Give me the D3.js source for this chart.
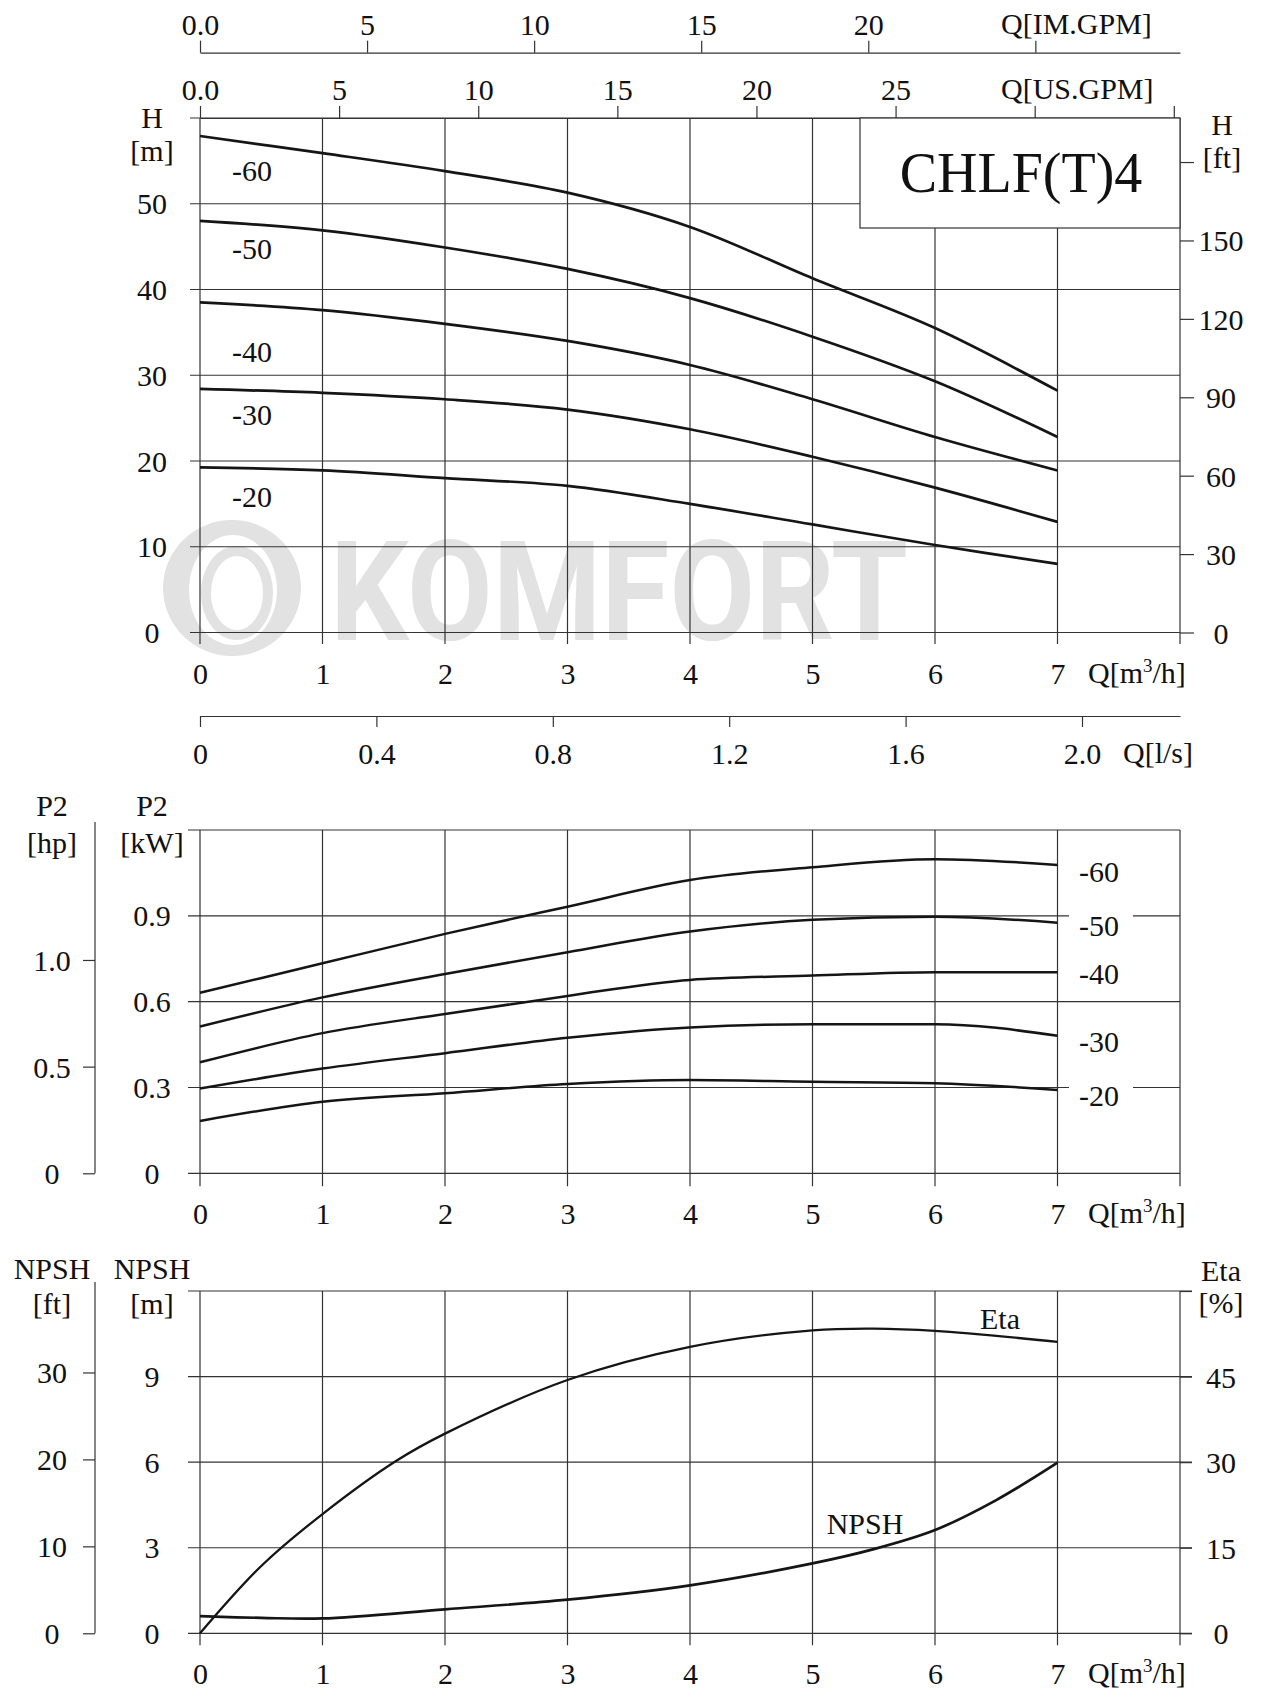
<!DOCTYPE html>
<html><head><meta charset="utf-8">
<script src="https://cdn.jsdelivr.net/npm/d3@7"></script>
<style>
body{margin:0;background:#fff;}
svg{display:block;font-family:"Liberation Serif","Times New Roman",serif;}
</style></head><body>
<svg id="c" width="1263" height="1688"></svg>
<script>
// ---------- DATA ----------
const qPts = [0, 1, 2, 3, 4, 5, 6, 7];                 // Q [m3/h]
const speedLabels = ["-60", "-50", "-40", "-30", "-20"];
// Head H [m]
const head60 = [57.9, 55.9, 53.8, 51.3, 47.3, 41.3, 35.5, 28.2];
const head50 = [48.0, 46.9, 44.9, 42.4, 39.0, 34.5, 29.3, 22.8];
const head40 = [38.5, 37.6, 36.0, 34.0, 31.2, 27.2, 22.8, 18.9];
const head30 = [28.4, 27.95, 27.2, 26.0, 23.7, 20.5, 16.9, 12.9];
const head20 = [19.25, 18.9, 18.0, 17.1, 15.0, 12.6, 10.2, 8.0];
// Power P2 [kW]
const pow60 = [0.631, 0.734, 0.837, 0.932, 1.025, 1.070, 1.098, 1.078];
const pow50 = [0.513, 0.615, 0.697, 0.773, 0.845, 0.886, 0.897, 0.876];
const pow40 = [0.388, 0.490, 0.557, 0.620, 0.676, 0.691, 0.703, 0.703];
const pow30 = [0.296, 0.366, 0.420, 0.474, 0.510, 0.521, 0.521, 0.481];
const pow20 = [0.183, 0.250, 0.280, 0.312, 0.326, 0.320, 0.315, 0.291];
// Efficiency Eta [%]
const qEta = [0, 0.5, 1, 1.6, 2, 3, 4, 5, 5.5, 6, 7];
const eta  = [0, 11.8, 20.9, 30.2, 35.0, 44.4, 50.2, 53.1, 53.4, 53.0, 51.1];
// NPSH [m]
const qNpsh = [0, 0.5, 1, 2, 3, 4, 5, 5.5, 6, 6.5, 7];
const npsh  = [0.60, 0.54, 0.52, 0.84, 1.18, 1.68, 2.45, 2.95, 3.62, 4.67, 5.98];
// Tick values
const qTicks = [0, 1, 2, 3, 4, 5, 6, 7, 8];
const imGpmTicks = [0, 5, 10, 15, 20, 25];
const usGpmTicks = [0, 5, 10, 15, 20, 25, 30, 35];
const lsTicks = [0, 0.4, 0.8, 1.2, 1.6, 2.0];
const hTicks = [0, 10, 20, 30, 40, 50, 60];
const ftTicks = [0, 30, 60, 90, 120, 150, 180];
const kwTicks = [0, 0.3, 0.6, 0.9, 1.2];
const hpTicks = [0, 0.5, 1.0];
const npshTicks = [0, 3, 6, 9, 12];
const npshFtTicks = [0, 10, 20, 30];
const etaTicks = [0, 15, 30, 45, 60];
const title = "CHLF(T)4";

// ---------- SCALES ----------
const FS = 30;
const GRID = "#333", CURVE = "#151515";
const x = d3.scaleLinear([0, 8], [200, 1180]);
const xIM = d3.scaleLinear([0, 8 / 0.272765], [200, 1180]);
const xUS = d3.scaleLinear([0, 8 / 0.227125], [200, 1180]);
const xLs = d3.scaleLinear([0, 8 / 3.6], [200, 1180]);
const yH = d3.scaleLinear([0, 60], [632.5, 118]);
const yFt = d3.scaleLinear([0, 60 / 0.3048], [632.5, 118]);
const yP = d3.scaleLinear([0, 1.2], [1173.3, 830]);
const yHp = d3.scaleLinear([0, 1.2 / 0.7457], [1173.3, 830]);
const yN = d3.scaleLinear([0, 12], [1633.3, 1291]);
const yNft = d3.scaleLinear([0, 12 / 0.3048], [1633.3, 1291]);
const yEta = d3.scaleLinear([0, 60], [1633.3, 1291]);

const svg = d3.select("#c");
svg.append("rect").attr("width", 1263).attr("height", 1688).attr("fill", "#fff");

// ---------- WATERMARK ----------
const wm = svg.append("g").attr("fill", "#e2e2e2");
wm.append("path").attr("fill-rule", "evenodd")
  .attr("d", "M163,588 a69,68 0 1,0 138,0 a69,68 0 1,0 -138,0 Z M189,590 a44,55 0 1,0 88,0 a44,55 0 1,0 -88,0 Z");
wm.append("ellipse").attr("cx", 237).attr("cy", 593).attr("rx", 31).attr("ry", 42)
  .attr("fill", "none").attr("stroke", "#e2e2e2").attr("stroke-width", 10);
wm.append("text").attr("x", 330).attr("y", 640).attr("textLength", 578).attr("lengthAdjust", "spacingAndGlyphs")
  .style("font-family", "Roboto, 'Open Sans', sans-serif").style("font-weight", 700).style("font-size", "140px")
  .text("KOMFORT");

// ---------- helpers ----------
function hline(g, yv, x1, x2) {
  g.append("line").attr("x1", x1).attr("x2", x2).attr("y1", yv).attr("y2", yv)
    .attr("stroke", GRID).attr("stroke-width", 1.2);
}
function vline(g, xv, y1, y2) {
  g.append("line").attr("x1", xv).attr("x2", xv).attr("y1", y1).attr("y2", y2)
    .attr("stroke", GRID).attr("stroke-width", 1.2);
}
function txt(g, s, xx, yy, anchor) {
  return g.append("text").attr("x", xx).attr("y", yy).attr("text-anchor", anchor || "middle")
    .attr("dominant-baseline", "central").style("font-size", FS + "px").attr("fill", "#111").text(s);
}
function qLabel(g, xx, yy, unitPre, sup, unitPost) {
  const t = g.append("text").attr("x", xx).attr("y", yy + 10).style("font-size", FS + "px").attr("fill", "#111");
  t.append("tspan").text(unitPre);
  if (sup) {
    t.append("tspan").attr("dy", -11).style("font-size", "19px").text(sup);
    t.append("tspan").attr("dy", 11).text(unitPost);
  }
  return t;
}
function styleAxis(g) {
  g.selectAll("path.domain").attr("stroke", GRID).attr("stroke-width", 1.2);
  g.selectAll(".tick line").attr("stroke", GRID).attr("stroke-width", 1.2);
  g.selectAll("text").style("font-size", FS + "px").style("font-family", "'Liberation Serif', serif").attr("fill", "#111");
}
function bottomLabels(g, yy) {
  const a = g.append("g").attr("transform", `translate(0,${yy})`)
    .call(d3.axisBottom(x).tickValues(qTicks.slice(0, 8)).tickSize(0).tickPadding(0).tickFormat(d3.format("d")));
  a.select("path.domain").remove();
  styleAxis(a);
  a.selectAll("text").attr("dy", null).attr("y", 0).attr("dominant-baseline", "central");
  qLabel(g, 1088, yy, "Q[m", "3", "/h]");
}
const line = (xs, ys, sx, sy, crv) => d3.line().x((d, i) => sx(xs[i])).y(d => sy(d))
  .curve(crv || d3.curveCatmullRom.alpha(0.5))(ys);

// ---------- TOP AXES (GPM) ----------
const gTop = svg.append("g");
const aIM = gTop.append("g").attr("transform", "translate(0,52.7)")
  .call(d3.axisTop(xIM).tickValues(imGpmTicks).tickSize(12).tickSizeOuter(0).tickPadding(6)
    .tickFormat(d => d === 0 ? "0.0" : (d === 25 ? "" : d)));
styleAxis(aIM);
qLabel(gTop, 1001, 24, "Q[IM.GPM]");
const aUS = gTop.append("g").attr("transform", "translate(0,118)")
  .call(d3.axisTop(xUS).tickValues(usGpmTicks).tickSize(12).tickSizeOuter(0).tickPadding(6)
    .tickFormat(d => d === 0 ? "0.0" : (d >= 30 ? "" : d)));
styleAxis(aUS);
qLabel(gTop, 1001, 89, "Q[US.GPM]");

// ---------- HEAD CHART ----------
const g1 = svg.append("g");
hTicks.forEach(h => hline(g1, yH(h), 190, 1180));
qTicks.forEach(q => vline(g1, x(q), yH(60), yH(0) + 11.5));
const aFt = g1.append("g").attr("transform", "translate(1180,0)")
  .call(d3.axisRight(yFt).tickValues(ftTicks).tickSize(14).tickSizeOuter(0).tickPadding(0)
    .tickFormat(d => d === 180 ? "" : d));
aFt.select("path.domain").remove();
styleAxis(aFt);
aFt.selectAll("text").attr("text-anchor", "middle").attr("x", 41).attr("dy", null).attr("dominant-baseline", "central");
// title box
g1.append("rect").attr("x", 860).attr("y", 118).attr("width", 320).attr("height", 110)
  .attr("fill", "#fff").attr("stroke", GRID).attr("stroke-width", 1.2);
g1.append("text").attr("x", 1021).attr("y", 192).attr("text-anchor", "middle")
  .style("font-size", "56px").attr("fill", "#111").text(title);
// left labels
hTicks.filter(h => h < 60).forEach(h => txt(g1, h, 152, yH(h)));
txt(g1, "H", 152, 117); txt(g1, "[m]", 152, 150);
txt(g1, "H", 1222, 124); txt(g1, "[ft]", 1222, 157);
// curves
const headSeries = [head60, head50, head40, head30, head20];
headSeries.forEach(s => g1.append("path").attr("d", line(qPts, s, x, yH))
  .attr("fill", "none").attr("stroke", CURVE).attr("stroke-width", 2.7));
const headLabelY = [170, 248, 351, 414, 496];
speedLabels.forEach((s, i) => txt(g1, s, 232, headLabelY[i], "start"));
bottomLabels(g1, 673);

// l/s axis
const aLs = svg.append("g").attr("transform", "translate(0,716)")
  .call(d3.axisBottom(xLs).tickValues(lsTicks).tickSize(11).tickSizeOuter(0).tickPadding(0)
    .tickFormat(d => d === 0 ? "0" : d3.format(".1f")(d)));
styleAxis(aLs);
aLs.selectAll(".tick text").attr("dy", null).attr("y", 37).attr("dominant-baseline", "central");
qLabel(svg, 1123, 753, "Q[l/s]");

// ---------- POWER CHART ----------
const g2 = svg.append("g");
kwTicks.forEach(p => hline(g2, yP(p), 188, 1180));
qTicks.forEach(q => vline(g2, x(q), yP(1.2), yP(0) + 13));
const aHp = g2.append("g").attr("transform", "translate(95,0)")
  .call(d3.axisLeft(yHp).tickValues(hpTicks).tickSize(12).tickSizeOuter(0).tickPadding(0)
    .tickFormat(d3.format(".1f")));
styleAxis(aHp);
aHp.select("path.domain").attr("d", `M0,${yP(0)}V822`);
aHp.selectAll("text").text(d => d === 0 ? "0" : d3.format(".1f")(d))
  .attr("text-anchor", "middle").attr("x", -43).attr("dy", null).attr("dominant-baseline", "central");
kwTicks.filter(p => p < 1.2).forEach(p => txt(g2, p === 0 ? "0" : d3.format(".1f")(p), 152, yP(p)));
txt(g2, "P2", 52, 805); txt(g2, "[hp]", 52, 842);
txt(g2, "P2", 152, 805); txt(g2, "[kW]", 152, 842);
const powSeries = [pow60, pow50, pow40, pow30, pow20];
powSeries.forEach(s => g2.append("path").attr("d", line(qPts, s, x, yP, d3.curveMonotoneX))
  .attr("fill", "none").attr("stroke", CURVE).attr("stroke-width", 2.5));
const powLabelY = [871, 925, 973, 1041, 1095];
speedLabels.forEach((s, i) => {
  g2.append("rect").attr("x", 1069).attr("y", powLabelY[i] - 15).attr("width", 64).attr("height", 30).attr("fill", "#fff");
  txt(g2, s, 1079, powLabelY[i], "start");
});
bottomLabels(g2, 1213);

// ---------- NPSH / ETA CHART ----------
const g3 = svg.append("g");
npshTicks.forEach(n => hline(g3, yN(n), 188, 1192));
qTicks.forEach(q => vline(g3, x(q), yN(12), yN(0) + 12));
const aNft = g3.append("g").attr("transform", "translate(95,0)")
  .call(d3.axisLeft(yNft).tickValues(npshFtTicks).tickSize(12).tickSizeOuter(0).tickPadding(0));
styleAxis(aNft);
aNft.select("path.domain").attr("d", `M0,${yN(0)}V1282`);
aNft.selectAll("text").attr("text-anchor", "middle").attr("x", -43).attr("dy", null).attr("dominant-baseline", "central");
npshTicks.filter(n => n < 12).forEach(n => txt(g3, n, 152, yN(n)));
const aEta = g3.append("g").attr("transform", "translate(1180,0)")
  .call(d3.axisRight(yEta).tickValues(etaTicks).tickSize(12).tickSizeOuter(0).tickPadding(0)
    .tickFormat(d => d === 60 ? "" : d));
aEta.select("path.domain").remove();
styleAxis(aEta);
aEta.selectAll("text").attr("text-anchor", "middle").attr("x", 41).attr("dy", null).attr("dominant-baseline", "central");
txt(g3, "NPSH", 52, 1268); txt(g3, "[ft]", 52, 1303);
txt(g3, "NPSH", 152, 1268); txt(g3, "[m]", 152, 1303);
txt(g3, "Eta", 1221, 1270); txt(g3, "[%]", 1221, 1302);
g3.append("path").attr("d", line(qEta, eta, x, yEta))
  .attr("fill", "none").attr("stroke", CURVE).attr("stroke-width", 2.3);
g3.append("path").attr("d", line(qNpsh, npsh, x, yN))
  .attr("fill", "none").attr("stroke", CURVE).attr("stroke-width", 2.7);
txt(g3, "Eta", 1000, 1318);
txt(g3, "NPSH", 865, 1523);
bottomLabels(g3, 1673);
</script>
</body></html>
